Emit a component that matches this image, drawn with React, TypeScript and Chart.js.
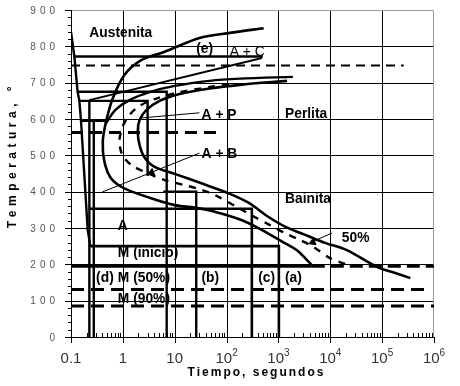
import { useEffect, useRef } from "react";
import { Chart, registerables } from "chart.js";

Chart.register(...registerables);

// ---------- data (time in s, temperature in °C) ----------
// start curve (cementite start upper branch + bainite start lower branch)
const inicioTiempo = [520, 115, 30, 6.4, 2.26, 1.07, 0.64, 0.475, 0.41, 0.44, 0.59, 1.07, 3.5, 10, 24, 59, 194, 473, 1200, 2300, 4400];
const inicioTemp = [850, 837, 823, 785, 762, 721, 657, 593, 538, 483, 437, 409, 382, 363, 356, 345, 322, 295, 262, 238, 198];

// pearlite start curve branching to the right
const perlitaTiempo = [0.46, 0.72, 1.34, 3.27, 10, 47, 180, 1900];
const perlitaTemp = [586, 625, 652, 674, 691, 705, 711, 716];

// finish curve
const finTiempo = [350000, 179000, 79300, 20850, 7930, 3720, 1340, 635, 269, 107, 32.7, 10, 4.1, 2.6, 2.1, 1.94, 2.1, 2.86, 5.1, 12.4, 47, 180, 1460];
const finTemp = [162, 176, 193, 239, 259, 278, 304, 331, 369, 396, 423, 449, 468, 495, 528, 565, 597, 625, 650, 669, 684, 694, 705];

// 50 % curve (dashed)
const medioTiempo = [19300, 9900, 4650, 2600, 1340, 685, 351, 157, 59, 30, 15.5, 6.4, 3.0, 1.47, 0.98, 0.86, 0.98, 1.34, 2.1, 4.1, 12.4, 47, 144];
const medioTemp = [201, 217, 249, 267, 286, 308, 330, 358, 391, 407, 418, 432, 451, 473, 501, 538, 578, 611, 636, 655, 674, 688, 699];

// quench line from austenite
const templeTiempo = [0.1, 0.116, 0.134, 0.145, 0.156, 0.21, 0.236];
const templeTemp = [840, 772, 675, 650, 595, 295, 250];

// isothermal paths
const tray775Tiempo = [0.116, 500];
const tray775Temp = [772, 772];
const tray675Tiempo = [0.134, 7, 7];
const tray675Temp = [675, 675, 0];
const tray650Tiempo = [0.145, 3, 3];
const tray650Temp = [650, 650, 443];
const tray400Tiempo = [6, 26, 26];
const tray400Temp = [400, 400, 0];
const trayDaTiempo = [0.226, 0.226];
const trayDaTemp = [652, 0];
const tray595Tiempo = [0.156, 0.46];
const tray595Temp = [595, 595];
const trayDbTiempo = [0.275, 0.275];
const trayDbTemp = [595, 0];
const tray350Tiempo = [0.226, 307, 307];
const tray350Temp = [353, 353, 0];
const tray250Tiempo = [0.236, 1020, 1020];
const tray250Temp = [250, 250, 0];
const lineaACTiempo = [0.226, 480];
const lineaACTemp = [652, 768];

// horizontal reference lines
const msTiempo = [0.1, 4400];
const msTemp = [195, 195];
const msExtTiempo = [4400, 1000000];
const msExtTemp = [195, 195];
const m50Tiempo = [0.1, 800000];
const m50Temp = [131, 131];
const m90Tiempo = [0.1, 1000000];
const m90Temp = [85, 85];
const d750Tiempo = [0.1, 260000];
const d750Temp = [747, 747];
const d565Tiempo = [0.1, 74];
const d565Temp = [563, 563];

// pointers
const flechaABTiempo = [30, 0.4];
const flechaABTemp = [506, 399];
const flechaAPTiempo = [30, 2.3];
const flechaAPTemp = [617, 603];
const flecha50Tiempo = [10800, 4450];
const flecha50Temp = [286, 262];
const puntaABTiempo = [3.57];
const puntaABTemp = [453];
const punta50Tiempo = [4600];
const punta50Temp = [261];

// axes
const xTicks = [0.1, 1, 10, 100, 1000, 10000, 100000, 1000000];
const xTickBase = ["0.1", "1", "10", "10", "10", "10", "10", "10"];
const xTickExp = ["", "", "", "2", "3", "4", "5", "6"];
const yTicks = [0, 100, 200, 300, 400, 500, 600, 700, 800, 900];

// text labels (text, time, temperature at left/baseline)
const etiquetas: { text: string; t: number; T: number; bold?: boolean }[] = [
  { text: "Austenita", t: 0.226, T: 827 },
  { text: "(e)", t: 26, T: 782 },
  { text: "A + C", t: 115, T: 773, bold: false },
  { text: "A + P", t: 33, T: 600 },
  { text: "Perlita", t: 1340, T: 602 },
  { text: "A + B", t: 33, T: 494 },
  { text: "Bainita", t: 1340, T: 368 },
  { text: "50%", t: 16700, T: 262 },
  { text: "A", t: 0.8, T: 294 },
  { text: "M (inicio)", t: 0.8, T: 219 },
  { text: "(d)", t: 0.305, T: 151 },
  { text: "M (50%)", t: 0.8, T: 151 },
  { text: "(b)", t: 32.7, T: 151 },
  { text: "(c)", t: 406, T: 151 },
  { text: "(a)", t: 1340, T: 151 },
  { text: "M (90%)", t: 0.8, T: 94 },
];

const FONT = '"Liberation Sans", Arial, sans-serif';

function pts(xs: number[], ys: number[]) {
  return xs.map((x, i) => ({ x, y: ys[i] }));
}

function mk(xs: number[], ys: number[], w: number, dash: number[] = [], tension = 0) {
  return {
    data: pts(xs, ys),
    showLine: true,
    borderColor: "#000",
    backgroundColor: "#000",
    borderWidth: w,
    borderDash: dash,
    pointRadius: 0,
    tension,
    fill: false,
    borderCapStyle: "butt",
    borderJoinStyle: "miter",
  };
}

function arrow(xs: number[], ys: number[], rot: number) {
  return {
    data: pts(xs, ys),
    showLine: false,
    pointStyle: "triangle",
    pointRotation: rot,
    pointRadius: 4,
    borderColor: "#000",
    backgroundColor: "#000",
    borderWidth: 1,
  };
}

const gridPlugin = {
  id: "gridPlugin",
  beforeDatasetsDraw(chart: any) {
    const { ctx, chartArea: a, scales } = chart;
    const xs = scales.x;
    const ys = scales.y;
    ctx.save();
    ctx.lineWidth = 1;
    ctx.strokeStyle = "#000";
    ctx.beginPath();
    for (let v = 100; v < 900; v += 100) {
      const y = Math.round(ys.getPixelForValue(v)) + 0.5;
      ctx.moveTo(a.left, y);
      ctx.lineTo(a.right, y);
    }
    for (let d = 0; d <= 5; d++) {
      const x = Math.round(xs.getPixelForValue(Math.pow(10, d))) + 0.5;
      ctx.moveTo(x, a.top);
      ctx.lineTo(x, a.bottom);
    }
    ctx.stroke();
    // top / right border in gray
    ctx.strokeStyle = "#999";
    ctx.beginPath();
    ctx.moveTo(a.left, a.top + 0.5);
    ctx.lineTo(a.right - 0.5, a.top + 0.5);
    ctx.lineTo(a.right - 0.5, a.bottom);
    ctx.stroke();
    // axes
    ctx.strokeStyle = "#000";
    ctx.beginPath();
    ctx.moveTo(a.left + 0.5, a.top);
    ctx.lineTo(a.left + 0.5, a.bottom + 0.5);
    ctx.lineTo(a.right, a.bottom + 0.5);
    // y ticks
    for (let v = 0; v <= 900; v += 20) {
      const y = Math.round(ys.getPixelForValue(v)) + 0.5;
      const len = v % 100 === 0 ? 6 : 3;
      ctx.moveTo(a.left - len, y);
      ctx.lineTo(a.left, y);
    }
    // x ticks
    for (let d = -1; d <= 6; d++) {
      const x = Math.round(xs.getPixelForValue(Math.pow(10, d))) + 0.5;
      ctx.moveTo(x, a.bottom);
      ctx.lineTo(x, a.bottom + 6);
      if (d < 6) {
        for (let m = 2; m <= 9; m++) {
          const xm = Math.round(xs.getPixelForValue(m * Math.pow(10, d))) + 0.5;
          ctx.moveTo(xm, a.bottom - 4);
          ctx.lineTo(xm, a.bottom);
        }
      }
    }
    ctx.stroke();
    ctx.restore();
  },
  afterDatasetsDraw(chart: any) {
    const { ctx, chartArea: a, scales } = chart;
    const xs = scales.x;
    const ys = scales.y;
    ctx.save();
    // annotation labels
    ctx.fillStyle = "#000";
    ctx.textBaseline = "alphabetic";
    ctx.textAlign = "left";
    for (const e of etiquetas) {
      const x = xs.getPixelForValue(e.t);
      const y = ys.getPixelForValue(e.T);
      ctx.font = `${e.bold === false ? "" : "bold "}15px ${FONT}`;
      ctx.save();
      ctx.translate(x, y);
      ctx.scale(0.92, 1);
      ctx.fillText(e.text, 0, 0);
      ctx.restore();
    }
    // y tick labels
    ctx.fillStyle = "#555";
    ctx.font = `10px ${FONT}`;
    ctx.textAlign = "right";
    ctx.textBaseline = "middle";
    (ctx as any).letterSpacing = "4px";
    for (const v of yTicks) {
      const y = ys.getPixelForValue(v);
      ctx.fillText(String(v), a.left - 12, y + 1);
    }
    (ctx as any).letterSpacing = "0px";
    // x tick labels
    ctx.fillStyle = "#333";
    ctx.textBaseline = "alphabetic";
    ctx.textAlign = "left";
    xTicks.forEach((v, i) => {
      const x = xs.getPixelForValue(v);
      ctx.font = `15px ${FONT}`;
      const wb = ctx.measureText(xTickBase[i]).width;
      let we = 0;
      if (xTickExp[i]) {
        ctx.font = `10px ${FONT}`;
        we = ctx.measureText(xTickExp[i]).width;
      }
      const x0 = x - (wb + we) / 2;
      ctx.font = `15px ${FONT}`;
      ctx.fillText(xTickBase[i], x0, 363);
      if (xTickExp[i]) {
        ctx.font = `10px ${FONT}`;
        ctx.fillText(xTickExp[i], x0 + wb, 356);
      }
    });
    // axis titles
    ctx.fillStyle = "#000";
    ctx.font = `bold 12px ${FONT}`;
    ctx.textAlign = "center";
    (ctx as any).letterSpacing = "2px";
    ctx.fillText("Tiempo, segundos", (a.left + a.right) / 2 + 4, 376);
    (ctx as any).letterSpacing = "4.5px";
    ctx.save();
    ctx.translate(16, 157);
    ctx.rotate(-Math.PI / 2);
    ctx.fillText("Temperatura, °", 2, 0);
    ctx.restore();
    (ctx as any).letterSpacing = "0px";
    ctx.restore();
  },
};

export default function App() {
  const ref = useRef<HTMLCanvasElement>(null);
  useEffect(() => {
    const canvas = ref.current;
    if (!canvas) return;
    const datasets: any[] = [
      mk(d750Tiempo, d750Temp, 2, [9, 6]),
      mk(d565Tiempo, d565Temp, 3, [12, 7]),
      mk(m50Tiempo, m50Temp, 3, [13, 7]),
      mk(m90Tiempo, m90Temp, 3, [13, 7]),
      mk(msTiempo, msTemp, 3),
      mk(msExtTiempo, msExtTemp, 3, [13, 6]),
      mk(inicioTiempo, inicioTemp, 2.6, [], 0.3),
      mk(perlitaTiempo, perlitaTemp, 2.4, [], 0.3),
      mk(finTiempo, finTemp, 2.6, [], 0.3),
      mk(medioTiempo, medioTemp, 2.4, [7, 7], 0.3),
      mk(templeTiempo, templeTemp, 2.4),
      mk(tray775Tiempo, tray775Temp, 2.4),
      mk(tray675Tiempo, tray675Temp, 2.4),
      mk(tray650Tiempo, tray650Temp, 2.4),
      mk(tray400Tiempo, tray400Temp, 2.4),
      mk(trayDaTiempo, trayDaTemp, 2.4),
      mk(tray595Tiempo, tray595Temp, 2.4),
      mk(trayDbTiempo, trayDbTemp, 2.4),
      mk(tray350Tiempo, tray350Temp, 2.6),
      mk(tray250Tiempo, tray250Temp, 2.6),
      mk(lineaACTiempo, lineaACTemp, 2),
      mk(flechaABTiempo, flechaABTemp, 1),
      mk(flechaAPTiempo, flechaAPTemp, 1),
      mk(flecha50Tiempo, flecha50Temp, 1),
      arrow(puntaABTiempo, puntaABTemp, 248),
      arrow(punta50Tiempo, punta50Temp, 246),
    ];
    const chart = new Chart(canvas, {
      type: "scatter",
      data: { datasets },
      options: {
        responsive: false,
        animation: false,
        devicePixelRatio: 1,
        events: [],
        layout: { padding: { left: 71, top: 10, right: 26, bottom: 49 } },
        plugins: { legend: { display: false }, tooltip: { enabled: false } },
        scales: {
          x: { type: "logarithmic", min: 0.1, max: 1000000, display: false },
          y: { type: "linear", min: 0, max: 900, display: false },
        },
      } as any,
      plugins: [gridPlugin],
    });
    return () => chart.destroy();
  }, []);
  return (
    <div style={{ position: "fixed", left: 0, top: 0, width: 460, height: 386, background: "#fff" }}>
      <canvas ref={ref} width={460} height={386} style={{ display: "block" }} />
    </div>
  );
}
